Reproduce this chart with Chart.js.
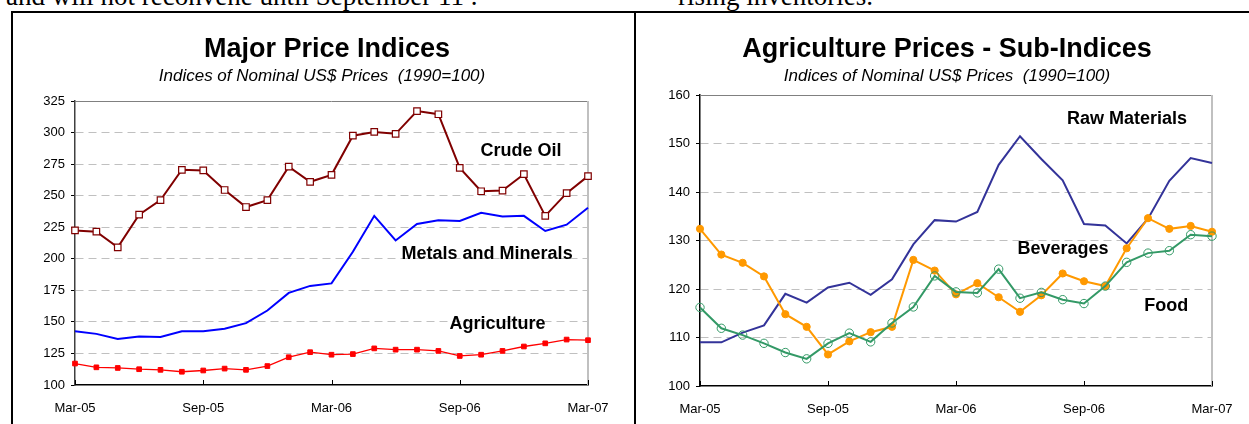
<!DOCTYPE html>
<html>
<head>
<meta charset="utf-8">
<script src="https://cdn.jsdelivr.net/npm/chart.js@4"></script>
<style>
  body { margin: 0; background: #fff; width: 1249px; height: 424px; overflow: hidden; position: relative; }
  .prose { position: absolute; top: -19px; font: 27px/30px "Liberation Serif", "Times New Roman", serif; color: #000; white-space: nowrap; }
  .frame { position: absolute; background: #000; }
  canvas { position: absolute; }
</style>
</head>
<body>
<div class="prose" style="left:6px">and will not reconvene until September 11 .</div>
<div class="prose" style="left:678px">rising inventories.</div>
<div class="frame" style="left:11px; top:11px; width:2px; height:413px"></div>
<div class="frame" style="left:11px; top:11px; width:1238px; height:2px"></div>
<div class="frame" style="left:634px; top:11px; width:2px; height:413px"></div>
<canvas id="majorChart" width="620" height="411" style="left:14px; top:13px"></canvas>
<canvas id="agriChart" width="612" height="411" style="left:637px; top:13px"></canvas>
<script>
const FONT = 'Liberation Sans, Arial, sans-serif';

const months = ['Mar-05', 'Apr-05', 'May-05', 'Jun-05', 'Jul-05', 'Aug-05', 'Sep-05', 'Oct-05', 'Nov-05', 'Dec-05',
  'Jan-06', 'Feb-06', 'Mar-06', 'Apr-06', 'May-06', 'Jun-06', 'Jul-06', 'Aug-06', 'Sep-06', 'Oct-06', 'Nov-06',
  'Dec-06', 'Jan-07', 'Feb-07', 'Mar-07'];

// Major Price Indices (1990=100)
const crudeOil = [222.5, 221.5, 209, 235, 246.5, 270.5, 270, 254.5, 241, 246.5, 273, 261, 266.5, 297.5, 300.5,
  299, 317, 314.5, 272, 253.5, 254, 267, 234, 252, 265.5];
const metalsMinerals = [142.5, 140.5, 136.5, 138.5, 138, 142.5, 142.5, 144.5, 149, 159, 173, 178.5, 180.5, 205.5,
  234, 214.5, 227.5, 230.5, 230, 236.5, 233.5, 234, 222, 227, 240.5];
const agriculture = [117, 114, 113.5, 112.5, 112, 110.5, 111.5, 113, 112, 115, 122, 126, 124, 124.5, 129, 128,
  128, 127, 123, 124, 127, 130.5, 133, 136, 135.5];

// Agriculture sub-indices (1990=100)
const rawMaterials = [109, 109, 111, 112.5, 119, 117.2, 120.3, 121.3, 118.8, 122, 129.2, 134.2, 133.9, 135.9,
  145.6, 151.5, 146.8, 142.4, 133.4, 133.1, 129.4, 134.5, 142.3, 147, 146];
const beverages = [132.4, 127.1, 125.4, 122.6, 114.8, 112.2, 106.5, 109.2, 111.1, 112.2, 126, 123.8, 118.9, 121.2,
  118.3, 115.3, 118.7, 123.2, 121.6, 120.6, 128.4, 134.6, 132.4, 133, 131.8];
const food = [116.2, 111.9, 110.5, 108.8, 106.9, 105.6, 108.8, 110.9, 109.1, 113, 116.3, 122.7, 119.4, 119.2,
  124.1, 118.1, 119.3, 117.8, 117, 120.6, 125.5, 127.4, 127.9, 131.2, 130.9];

const SUBTITLE = 'Indices of Nominal US$ Prices  (1990=100)';

// titles, series names, plot frame and inward x tick marks
const panelText = {
  id: 'panelText',
  beforeDatasetsDraw(chart) {
    const {ctx, chartArea: a} = chart;
    ctx.save();
    ctx.strokeStyle = '#808080';
    ctx.lineWidth = 1;
    ctx.beginPath();
    ctx.moveTo(a.left, a.top + 0.5);
    ctx.lineTo(a.right, a.top + 0.5);
    ctx.stroke();
    ctx.strokeStyle = '#c0c0c0';
    ctx.lineWidth = 2;
    ctx.beginPath();
    ctx.moveTo(a.right, a.top);
    ctx.lineTo(a.right, a.bottom);
    ctx.stroke();
    const xs = chart.scales.x;
    ctx.strokeStyle = '#000';
    ctx.lineWidth = 1;
    months.forEach((m, i) => {
      if (i % 6 !== 0) return;
      const px = Math.round(xs.getPixelForValue(i)) + 0.5;
      ctx.beginPath();
      ctx.moveTo(px, a.bottom);
      ctx.lineTo(px, a.bottom - 5);
      ctx.stroke();
    });
    ctx.restore();
  },
  afterDraw(chart, args, opts) {
    const {ctx} = chart;
    const xs = chart.scales.x, ys = chart.scales.y;
    ctx.save();
    ctx.fillStyle = '#000';
    ctx.textAlign = 'center';
    ctx.textBaseline = 'alphabetic';
    ctx.font = 'bold 27px ' + FONT;
    ctx.fillText(opts.title, opts.titleX, 44);
    ctx.font = 'italic 17px ' + FONT;
    ctx.fillText(SUBTITLE, opts.subX, 68);
    ctx.font = 'bold 18px ' + FONT;
    opts.names.forEach(([text, at, value]) => {
      ctx.fillText(text, xs.getPixelForValue(at), ys.getPixelForValue(value));
    });
    ctx.restore();
  }
};

function makeOptions(cfg) {
  return {
    responsive: false,
    animation: false,
    layout: {padding: cfg.padding},
    plugins: {
      legend: {display: false},
      tooltip: {enabled: false},
      panelText: cfg.text
    },
    scales: {
      x: {
        type: 'category',
        offset: false,
        grid: {display: false},
        border: {display: true, color: '#000', width: 1.5},
        afterFit: (s) => { s.height = cfg.xHeight; },
        ticks: {
          autoSkip: false,
          maxRotation: 0,
          padding: 8,
          color: '#000',
          font: {family: FONT, size: 13},
          callback: (v, i) => (i % 6 === 0 ? months[i] : null)
        }
      },
      y: {
        min: cfg.min,
        max: cfg.max,
        afterFit: (s) => { s.width = cfg.yWidth; },
        grid: {
          color: (c) => (c.tick && (c.tick.value === cfg.max || c.tick.value === cfg.min) ? 'rgba(0,0,0,0)' : '#c0c0c0'),
          lineWidth: 1,
          tickColor: '#000',
          tickLength: 4
        },
        border: {display: true, color: cfg.yAxisColor, width: 1.5, dash: [8, 5]},
        ticks: {
          stepSize: cfg.step,
          padding: 6,
          color: '#000',
          font: {family: FONT, size: 13}
        }
      }
    }
  };
}

new Chart(document.getElementById('majorChart').getContext('2d'), {
  type: 'line',
  data: {
    labels: months,
    datasets: [{
      label: 'Crude Oil',
      data: crudeOil,
      borderColor: '#800000',
      borderWidth: 2,
      pointStyle: 'rect',
      pointRadius: 4.6,
      pointBackgroundColor: '#fff',
      pointBorderColor: '#800000',
      pointBorderWidth: 1.2,
      tension: 0,
      clip: false
    }, {
      label: 'Metals and Minerals',
      data: metalsMinerals,
      borderColor: '#0000ff',
      borderWidth: 2,
      pointRadius: 0,
      tension: 0,
      clip: false
    }, {
      label: 'Agriculture',
      data: agriculture,
      borderColor: '#ff0000',
      borderWidth: 1.3,
      pointStyle: 'rect',
      pointRadius: 3.3,
      pointBackgroundColor: '#ff0000',
      pointBorderColor: '#ff0000',
      pointBorderWidth: 1,
      tension: 0,
      clip: false
    }]
  },
  options: makeOptions({
    padding: {left: 0, right: 46, top: 88, bottom: 0},
    xHeight: 39, yWidth: 61, min: 100, max: 325, step: 25, yAxisColor: '#404040',
    text: {
      title: 'Major Price Indices', titleX: 313, subX: 308,
      names: [['Crude Oil', 20.87, 281.4], ['Metals and Minerals', 19.28, 199.6], ['Agriculture', 19.77, 144.6]]
    }
  }),
  plugins: [panelText]
});

new Chart(document.getElementById('agriChart').getContext('2d'), {
  type: 'line',
  data: {
    labels: months,
    datasets: [{
      label: 'Raw Materials',
      data: rawMaterials,
      borderColor: '#333399',
      borderWidth: 2,
      pointRadius: 0,
      tension: 0,
      order: 2,
      clip: false
    }, {
      label: 'Beverages',
      data: beverages,
      borderColor: '#ff9900',
      borderWidth: 2,
      pointStyle: 'circle',
      pointRadius: 3.6,
      pointBackgroundColor: '#ff9900',
      pointBorderColor: '#ff9900',
      pointBorderWidth: 1,
      tension: 0,
      order: 1,
      clip: false
    }, {
      label: 'Food',
      data: food,
      borderColor: '#339966',
      borderWidth: 2,
      pointStyle: 'circle',
      pointRadius: 4.2,
      pointBackgroundColor: 'rgba(255,255,255,0)',
      pointBorderColor: '#339966',
      pointBorderWidth: 1,
      tension: 0,
      order: 0,
      clip: false
    }]
  },
  options: makeOptions({
    padding: {left: 0, right: 37, top: 82, bottom: 0},
    xHeight: 38, yWidth: 63, min: 100, max: 160, step: 10, yAxisColor: '#000',
    text: {
      title: 'Agriculture Prices - Sub-Indices', titleX: 310, subX: 310,
      names: [['Raw Materials', 20.02, 154.0], ['Beverages', 17.02, 127.2], ['Food', 21.86, 115.5]]
    }
  }),
  plugins: [panelText]
});
</script>
</body>
</html>
